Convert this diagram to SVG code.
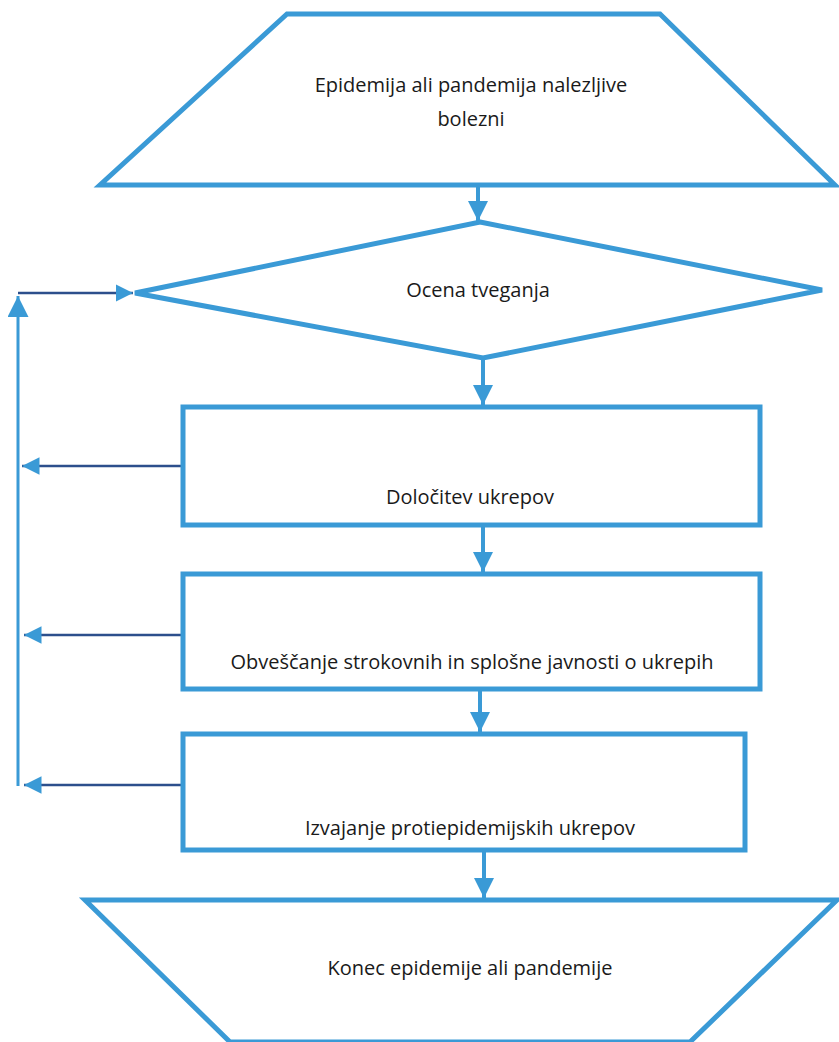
<svg xmlns="http://www.w3.org/2000/svg" width="839" height="1042" viewBox="0 0 839 1042">
<style>
.shape{fill:#ffffff;stroke:#3a9ad6;stroke-width:5;stroke-linejoin:miter}
.lbl{font-family:"Open Sans","Liberation Sans",sans-serif;font-size:20px;fill:#1a1a1a;text-anchor:middle}
.down{stroke:#3a9ad6;stroke-width:4;fill:none}
.back{stroke:#2c4f8c;stroke-width:2.5;fill:none}
.vert{stroke:#3a9ad6;stroke-width:3;fill:none}
</style>
<defs>
<marker id="ah" viewBox="0 0 10 10" refX="10" refY="5" markerWidth="5" markerHeight="5" orient="auto" markerUnits="strokeWidth">
<path d="M0,0 L10,5 L0,10 z" fill="#3a9ad6"/>
</marker>
<marker id="ahs" viewBox="0 0 10 10" refX="10" refY="5" markerWidth="7" markerHeight="7" orient="auto" markerUnits="strokeWidth">
<path d="M0,0 L10,5 L0,10 z" fill="#3a9ad6"/>
</marker>
</defs>
<rect width="839" height="1042" fill="#ffffff"/>
<g id="connectors">
<line class="down" x1="478" y1="187" x2="478" y2="221" marker-end="url(#ah)"/>
<line class="down" x1="483" y1="360" x2="483" y2="405" marker-end="url(#ah)"/>
<line class="down" x1="483" y1="527" x2="483" y2="572" marker-end="url(#ah)"/>
<line class="down" x1="480" y1="691" x2="480" y2="732" marker-end="url(#ah)"/>
<line class="down" x1="484" y1="852" x2="484" y2="898" marker-end="url(#ah)"/>
<line class="vert" x1="18" y1="786" x2="18" y2="296" marker-end="url(#ahs)"/>
<polyline class="back" points="18,293 133,293" marker-end="url(#ahs)"/>
<line class="back" x1="181" y1="466" x2="22" y2="466" marker-end="url(#ahs)"/>
<line class="back" x1="181" y1="635" x2="24" y2="635" marker-end="url(#ahs)"/>
<line class="back" x1="181" y1="785" x2="24" y2="785" marker-end="url(#ahs)"/>
</g>
<g id="start">
<polygon class="shape" points="287,14 660,14 835,185 100,185"/>
<text class="lbl" x="471" y="92">Epidemija ali pandemija nalezljive</text>
<text class="lbl" x="471" y="126">bolezni</text>
</g>
<g id="risk">
<polygon class="shape" points="480,222 822,290 483,358 135,293"/>
<text class="lbl" x="478" y="297">Ocena tveganja</text>
</g>
<g id="measures">
<rect class="shape" x="183" y="407" width="577" height="118"/>
<text class="lbl" x="470" y="504">Določitev ukrepov</text>
</g>
<g id="inform">
<rect class="shape" x="183" y="574" width="577" height="115"/>
<text class="lbl" x="472" y="669">Obveščanje strokovnih in splošne javnosti o ukrepih</text>
</g>
<g id="implement">
<rect class="shape" x="183" y="734" width="562" height="116"/>
<text class="lbl" x="470" y="835">Izvajanje protiepidemijskih ukrepov</text>
</g>
<g id="end">
<polygon class="shape" points="85,900 837,900 690,1042 230,1042"/>
<text class="lbl" x="470" y="975">Konec epidemije ali pandemije</text>
</g>
</svg>
